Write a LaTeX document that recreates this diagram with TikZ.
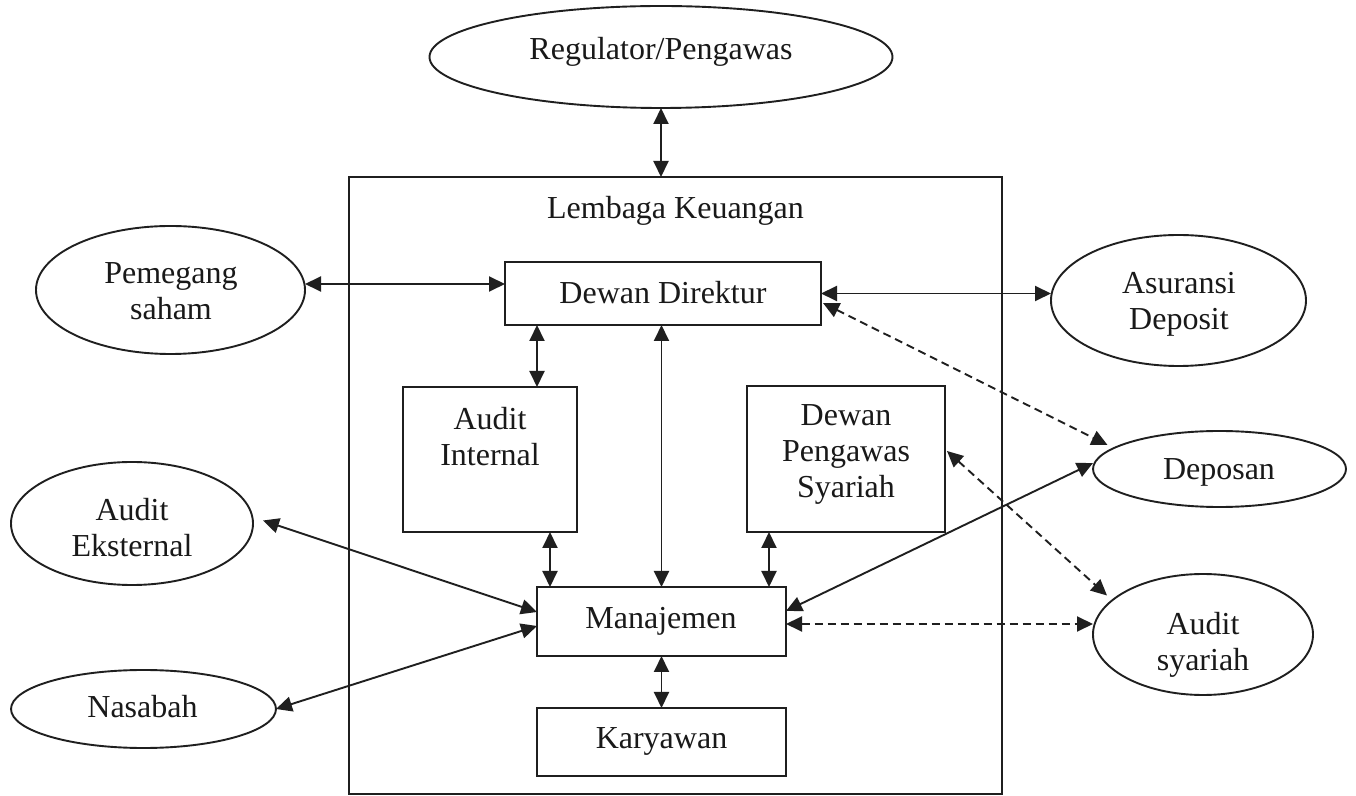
\documentclass[tikz,border=0pt]{standalone}
\usepackage{fontspec}
\setmainfont{Liberation Serif}
\usetikzlibrary{arrows.meta,shapes.geometric}
\begin{document}
\begin{tikzpicture}[x=0.5pt,y=-0.5pt,
  every node/.style={inner sep=0pt,outer sep=0pt},
  ln/.style={line width=0.95pt,draw=black!88},
  box/.style={ln,rectangle},
  oval/.style={ln,ellipse},
  txt/.style={font=\fontsize{16}{18}\selectfont,text=black!90,align=center},
  link/.style={ln,{Triangle[length=8pt,width=7.5pt]}-{Triangle[length=8pt,width=7.5pt]}},
  dlink/.style={link,dash pattern=on 4pt off 2.5pt}
]
% page
\fill[white] (0,0) rectangle (1356,796);
\useasboundingbox (0,0) rectangle (1356,796);

% institution frame
\node[box,minimum width=326.5pt,minimum height=308.5pt] (lk) at (675.5,485.5) {};

% inner units
\node[box,minimum width=158pt,minimum height=31.5pt] (dd) at (663,293.5) {};
\node[box,minimum width=87pt,minimum height=72.5pt] (ai) at (490,459.5) {};
\node[box,minimum width=99pt,minimum height=73pt] (dps) at (846,459) {};
\node[box,minimum width=124.5pt,minimum height=34.5pt] (man) at (661.5,621.5) {};
\node[box,minimum width=124.5pt,minimum height=34pt] (kar) at (661.5,742) {};

% outside parties
\node[oval,minimum width=231.5pt,minimum height=51pt] (reg) at (661,57) {};
\node[oval,minimum width=134.5pt,minimum height=64pt] (ps) at (170.5,290) {};
\node[oval,minimum width=127.5pt,minimum height=65.5pt] (as) at (1178.5,300.5) {};
\node[oval,minimum width=121pt,minimum height=61.5pt] (ae) at (132,523.5) {};
\node[oval,minimum width=132.5pt,minimum height=39pt] (nas) at (143.5,709) {};
\node[oval,minimum width=126.5pt,minimum height=38pt] (dep) at (1219.5,469) {};
\node[oval,minimum width=110pt,minimum height=60.5pt] (asy) at (1203,634.5) {};

% labels
\node[txt,anchor=base] (reg-t) at (661,60) {Regulator/Pengawas};
\node[txt,anchor=base] (lk-t) at (675.5,219) {Lembaga Keuangan};
\node[txt,anchor=base] (dd-t) at (663,304) {Dewan Direktur};
\node[txt,anchor=north] (ai-t) at (490,407) {Audit\\Internal};
\node[txt,anchor=north] (dps-t) at (846,405) {Dewan\\Pengawas\\Syariah};
\node[txt,anchor=base] (man-t) at (661,629) {Manajemen};
\node[txt,anchor=base] (kar-t) at (661.5,748) {Karyawan};
\node[txt,anchor=north] (ps-t) at (171,263) {Pemegang\\saham};
\node[txt,anchor=north] (as-t) at (1179,272) {Asuransi\\Deposit};
\node[txt,anchor=north] (ae-t) at (132,498) {Audit\\Eksternal};
\node[txt,anchor=base] (nas-t) at (142.5,718) {Nasabah};
\node[txt,anchor=base] (dep-t) at (1219,480) {Deposan};
\node[txt,anchor=north] (asy-t) at (1203,612) {Audit\\syariah};

% connector end points
\coordinate (psdd) at ([yshift=4.75pt]dd.west);
\coordinate (aitop) at ([xshift=23.5pt]ai.north);
\coordinate (aibot) at ([xshift=30pt]ai.south);
\coordinate (dpsbot) at ([xshift=-38.5pt]dps.south);
\coordinate (mr) at ([yshift=-1.25pt]man.east);

% solid relations
\draw[link] (reg.south) -- (reg.south |- lk.north);
\draw[link] (ps.east |- psdd) -- (psdd);
\draw[link] (dd.east) -- (as.west |- dd.east);
\draw[link] (aitop |- dd.south) -- (aitop);
\draw[link] (man.north |- dd.south) -- (man.north);
\draw[link] (aibot) -- (aibot |- man.north);
\draw[link] (dpsbot) -- (dpsbot |- man.north);
\draw[link] (man.south) -- (kar.north);
\draw[link] ([shift={(5pt,1.5pt)}]ae.east) -- ([yshift=4.75pt]man.west);
\draw[link] (nas.east) -- ([yshift=-2.25pt]man.west);
\draw[link] ([yshift=3pt]dep.west) -- ([yshift=5.25pt]man.east);

% dashed relations
\draw[dlink] ([shift={(1pt,-4.75pt)}]dd.east) -- ([shift={(-56pt,12pt)}]dep.center);
\draw[dlink] ([shift={(1pt,4pt)}]dps.east) -- ([shift={(-48pt,19.5pt)}]asy.center);
\draw[dlink] (mr) -- (asy.west |- mr);
\end{tikzpicture}
\end{document}
